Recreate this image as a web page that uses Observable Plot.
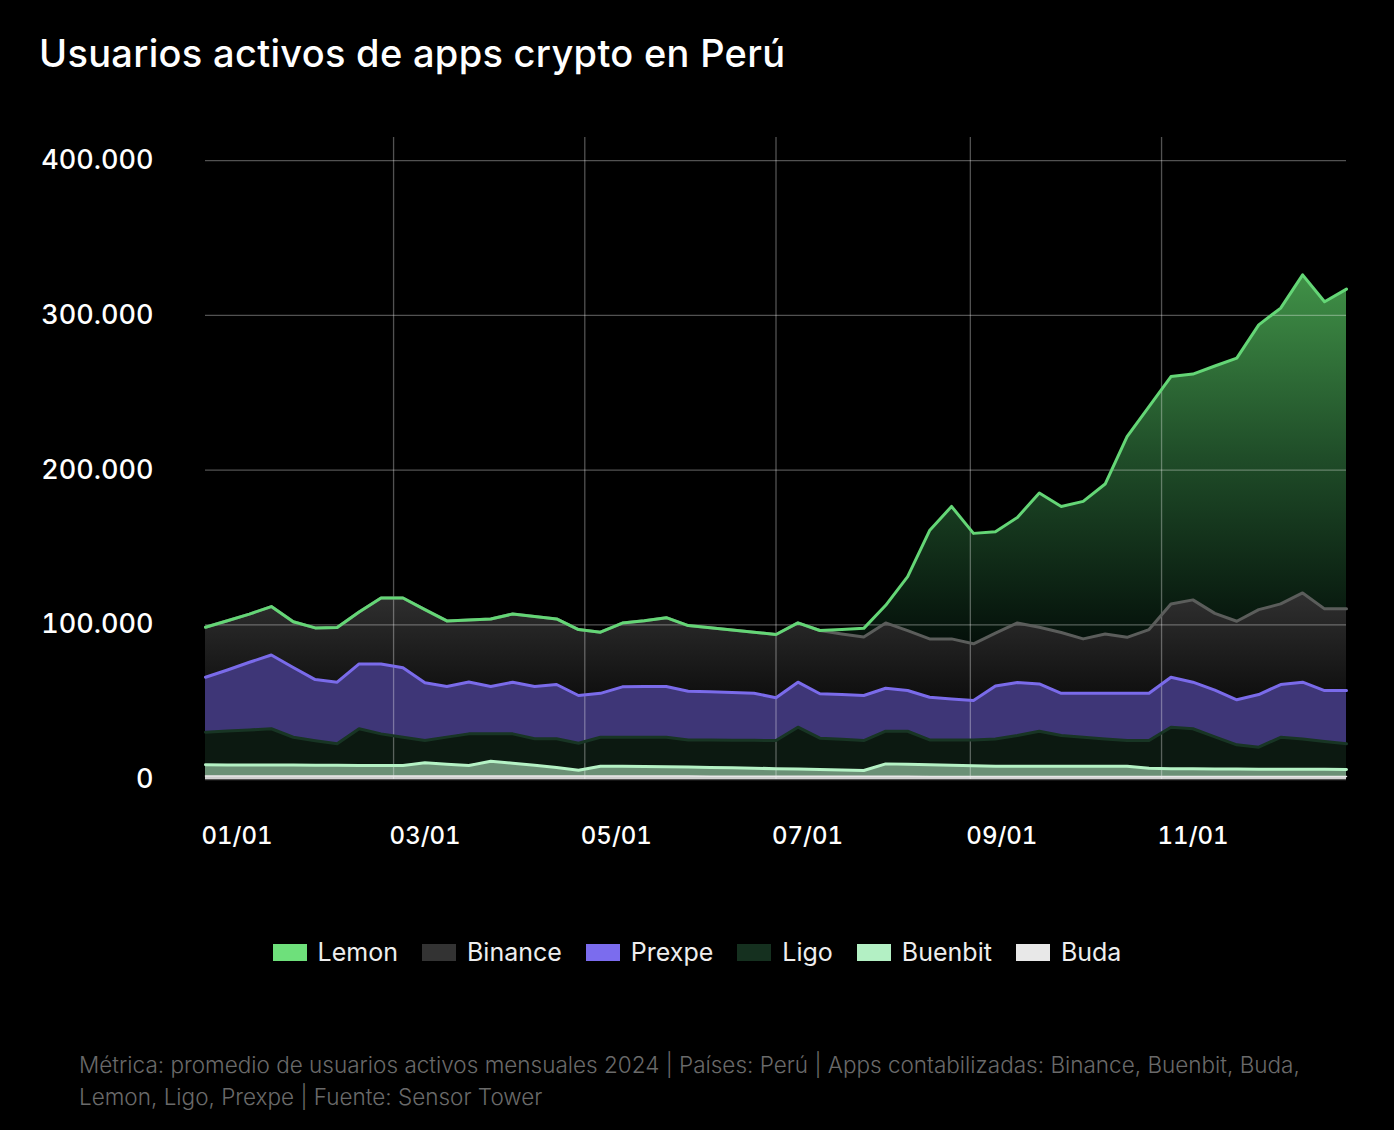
<!DOCTYPE html>
<html><head><meta charset="utf-8">
<script src="https://cdn.jsdelivr.net/npm/d3@7"></script>
<script src="https://cdn.jsdelivr.net/npm/@observablehq/plot@0.6"></script>
<style>
html,body{margin:0;background:#000;}
body{width:1394px;height:1130px;position:relative;overflow:hidden;font-family:Inter,"Noto Sans",sans-serif;color:#fff;}
#title{position:absolute;left:39px;top:31px;margin:0;font-size:38px;font-weight:500;line-height:44px;letter-spacing:0.3px;white-space:nowrap;}
#chart{position:absolute;left:0;top:0;}
#legend{position:absolute;left:0;width:1394px;top:936px;display:flex;justify-content:center;gap:24px;font-size:25px;line-height:32px;color:#eee;}
.item{display:flex;align-items:center;}
.sw{width:34px;height:17px;margin-right:11px;}
#caption{position:absolute;left:79px;top:1049px;font-size:22.5px;line-height:32px;color:#6a6a6a;font-weight:300;white-space:nowrap;}
</style></head>
<body>
<h1 id="title">Usuarios activos de apps crypto en Perú</h1>
<div id="chart"></div>
<div id="legend"></div>
<div id="caption">Métrica: promedio de usuarios activos mensuales 2024 | Países: Perú | Apps contabilizadas: Binance, Buenbit, Buda,<br>Lemon, Ligo, Prexpe | Fuente: Sensor Tower</div>
<script>
// ---- DATA (weekly, 2024) ----
const weeks = [
 "2024-01-01","2024-01-08","2024-01-15","2024-01-22","2024-01-29",
 "2024-02-05","2024-02-12","2024-02-19","2024-02-26",
 "2024-03-04","2024-03-11","2024-03-18","2024-03-25",
 "2024-04-01","2024-04-08","2024-04-15","2024-04-22","2024-04-29",
 "2024-05-06","2024-05-13","2024-05-20","2024-05-27",
 "2024-06-03","2024-06-10","2024-06-17","2024-06-24",
 "2024-07-01","2024-07-08","2024-07-15","2024-07-22","2024-07-29",
 "2024-08-05","2024-08-12","2024-08-19","2024-08-26",
 "2024-09-02","2024-09-09","2024-09-16","2024-09-23","2024-09-30",
 "2024-10-07","2024-10-14","2024-10-21","2024-10-28",
 "2024-11-04","2024-11-11","2024-11-18","2024-11-25",
 "2024-12-02","2024-12-09","2024-12-16","2024-12-23","2024-12-30"];

const lemon = [0,0,0,0,0,0,0,0,0,0,0,0,0,0,0,0,0,0,0,0,0,0,0,0,0,0,0,0,0,
 2800,5600,11400,34900,70000,85600,71400,65600,68200,86800,81500,88900,96900,129700,
 144100,147000,146000,159900,170100,184100,191200,205600,198500,206700];
const binance = [32300,31800,31100,31300,29600,33400,35300,33600,42600,45100,47300,42400,40100,
 43600,44100,45300,42400,42600,39500,41200,42500,44500,42500,41400,40400,39400,40900,38300,
 40900,39200,37800,42200,38700,37700,38800,36700,34200,38500,36600,39300,35200,38400,36200,
 41200,47400,53200,49600,50800,54900,52100,57700,52800,52800];
const prexpe = [35500,39500,43800,47700,45100,39500,39800,41900,45200,44900,37300,32700,33500,
 30600,33400,33800,35100,30900,28400,32600,32800,32800,31400,31200,30800,30500,27600,29100,
 28700,28900,29100,27800,26300,27600,26500,25400,34200,34300,30600,27300,28400,29500,30500,
 30500,32300,30100,30200,29100,34000,34100,36700,33000,34400];
const ligo = [21100,21900,22600,23500,18000,15900,13900,23700,20400,18300,14400,17600,20500,
 17700,19000,17100,18500,17400,18700,18800,18900,19000,17600,17700,17800,18000,18200,27000,
 20200,19800,19400,21100,21400,16100,16400,16700,17600,19800,22600,19800,18700,17600,16600,
 18000,26900,25900,20800,15600,14200,20600,19600,17900,16600];
const buenbit = [7300,7200,7200,7100,7100,7000,7000,6900,6900,6800,8600,7600,6800,9600,8300,
 7000,5600,3800,6400,6300,6200,6100,5800,5700,5500,5200,4900,4700,4400,4100,3700,8000,7700,
 7500,7200,6900,6600,6600,6600,6600,6600,6600,6600,5200,4900,4900,4800,4800,4700,4700,4600,
 4600,4500];
const buda = [2200,2200,2200,2200,2200,2200,2200,2200,2200,2200,2200,2200,2200,2200,2200,2200,
 2200,2200,2200,2200,2200,2200,2200,2100,2100,2100,2100,2100,2100,2100,2100,2100,2100,2000,
 2000,2000,2000,2000,2000,2000,2000,2000,2000,2000,2000,2000,2000,2000,2000,2000,2000,2000,2000];

const apps = ["Lemon","Binance","Prexpe","Ligo","Buenbit","Buda"]; // legend order (top to bottom)
const yTicks = [0,100000,200000,300000,400000];
const xTickLabels = ["2024-01-01","2024-03-01","2024-05-01","2024-07-01","2024-09-01","2024-11-01"];

// ---- styles ----
const style = {
  Lemon:   {fill:"url(#gradLemon)", op:1, stroke:"#64d676", sw:"#6ee07b"},
  Binance: {fill:"url(#gradBinance)", op:1, stroke:"#5b5d5b", sw:"#333333"},
  Prexpe:  {fill:"#7b6cee", op:0.5, stroke:"#7a6bea", sw:"#7b6cee"},
  Ligo:    {fill:"#173222", op:0.5, stroke:"#183524", sw:"#15301f"},
  Buenbit: {fill:"#b3f0c4", op:0.6, stroke:"#b5f2c5", sw:"#b3f0c4"},
  Buda:    {fill:"#e4e4e4", op:0.9, stroke:"#e8e8e8", sw:"#e8e8e8"}
};
const values = {Lemon:lemon, Binance:binance, Prexpe:prexpe, Ligo:ligo, Buenbit:buenbit, Buda:buda};

const parse = d3.utcParse("%Y-%m-%d");
const dates = weeks.map(parse);
const stackOrder = apps.slice().reverse(); // bottom to top
let cum = dates.map(() => 0);
const layers = stackOrder.map(name => {
  const v = values[name];
  const rows = dates.map((d, i) => ({date: d, y1: cum[i], y2: cum[i] + v[i], app: name}));
  cum = rows.map(r => r.y2);
  return {name, rows};
});

const defs = () => {
  const ns = "http://www.w3.org/2000/svg";
  const d = document.createElementNS(ns, "defs");
  d.innerHTML = `
    <linearGradient id="gradLemon" x1="0" y1="0" x2="0" y2="1">
      <stop offset="0" stop-color="#409147"/>
      <stop offset="0.5" stop-color="#1f4c28"/>
      <stop offset="1" stop-color="#04100a"/>
    </linearGradient>
    <linearGradient id="gradBinance" x1="0" y1="0" x2="0" y2="1">
      <stop offset="0" stop-color="#303030"/>
      <stop offset="1" stop-color="#0e0e0e"/>
    </linearGradient>`;
  return d;
};

const fmt = d3.formatLocale({decimal:",", thousands:".", grouping:[3], currency:["",""]}).format(",");

const marks = [defs];
for (const L of layers) {
  const s = style[L.name];
  marks.push(Plot.areaY(L.rows, {x:"date", y1:"y1", y2:"y2", fill:s.fill, fillOpacity:s.op}));
}
marks.push(Plot.gridY(yTicks, {stroke:"#fff", strokeOpacity:0.32, strokeWidth:1.3}));
marks.push(Plot.gridX(xTickLabels.slice(1).map(parse), {stroke:"#fff", strokeOpacity:0.32, strokeWidth:1.3}));
for (const L of layers) {
  const s = style[L.name];
  marks.push(Plot.lineY(L.rows, {x:"date", y:"y2", stroke:s.stroke, strokeWidth:L.name === "Buda" ? 1.5 : 3}));
}
marks.push(Plot.axisY(yTicks, {tickSize:0, tickPadding:52, fontSize:27, fontWeight:500, tickFormat:fmt, fill:"#fff"}));
marks.push(Plot.axisX(xTickLabels.map(parse), {tickSize:0, tickPadding:47, fontSize:24, fontWeight:500, textAnchor:"start", dx:-4, tickFormat:d3.utcFormat("%m/%d"), fill:"#fff"}));

const chart = Plot.plot({
  width:1394, height:880,
  marginLeft:205, marginRight:48, marginTop:137, marginBottom:101,
  style:{background:"transparent", color:"#fff", fontFamily:"Inter, 'Noto Sans', sans-serif"},
  x:{type:"utc", domain:[parse("2024-01-01"), parse("2024-12-30")], label:null},
  y:{domain:[0,415000], label:null},
  marks
});
document.getElementById("chart").appendChild(chart);

const leg = document.getElementById("legend");
for (const a of apps) {
  const it = document.createElement("div"); it.className = "item";
  const sw = document.createElement("div"); sw.className = "sw"; sw.style.background = style[a].sw;
  const tx = document.createElement("span"); tx.textContent = a;
  it.appendChild(sw); it.appendChild(tx); leg.appendChild(it);
}
</script>
</body></html>
